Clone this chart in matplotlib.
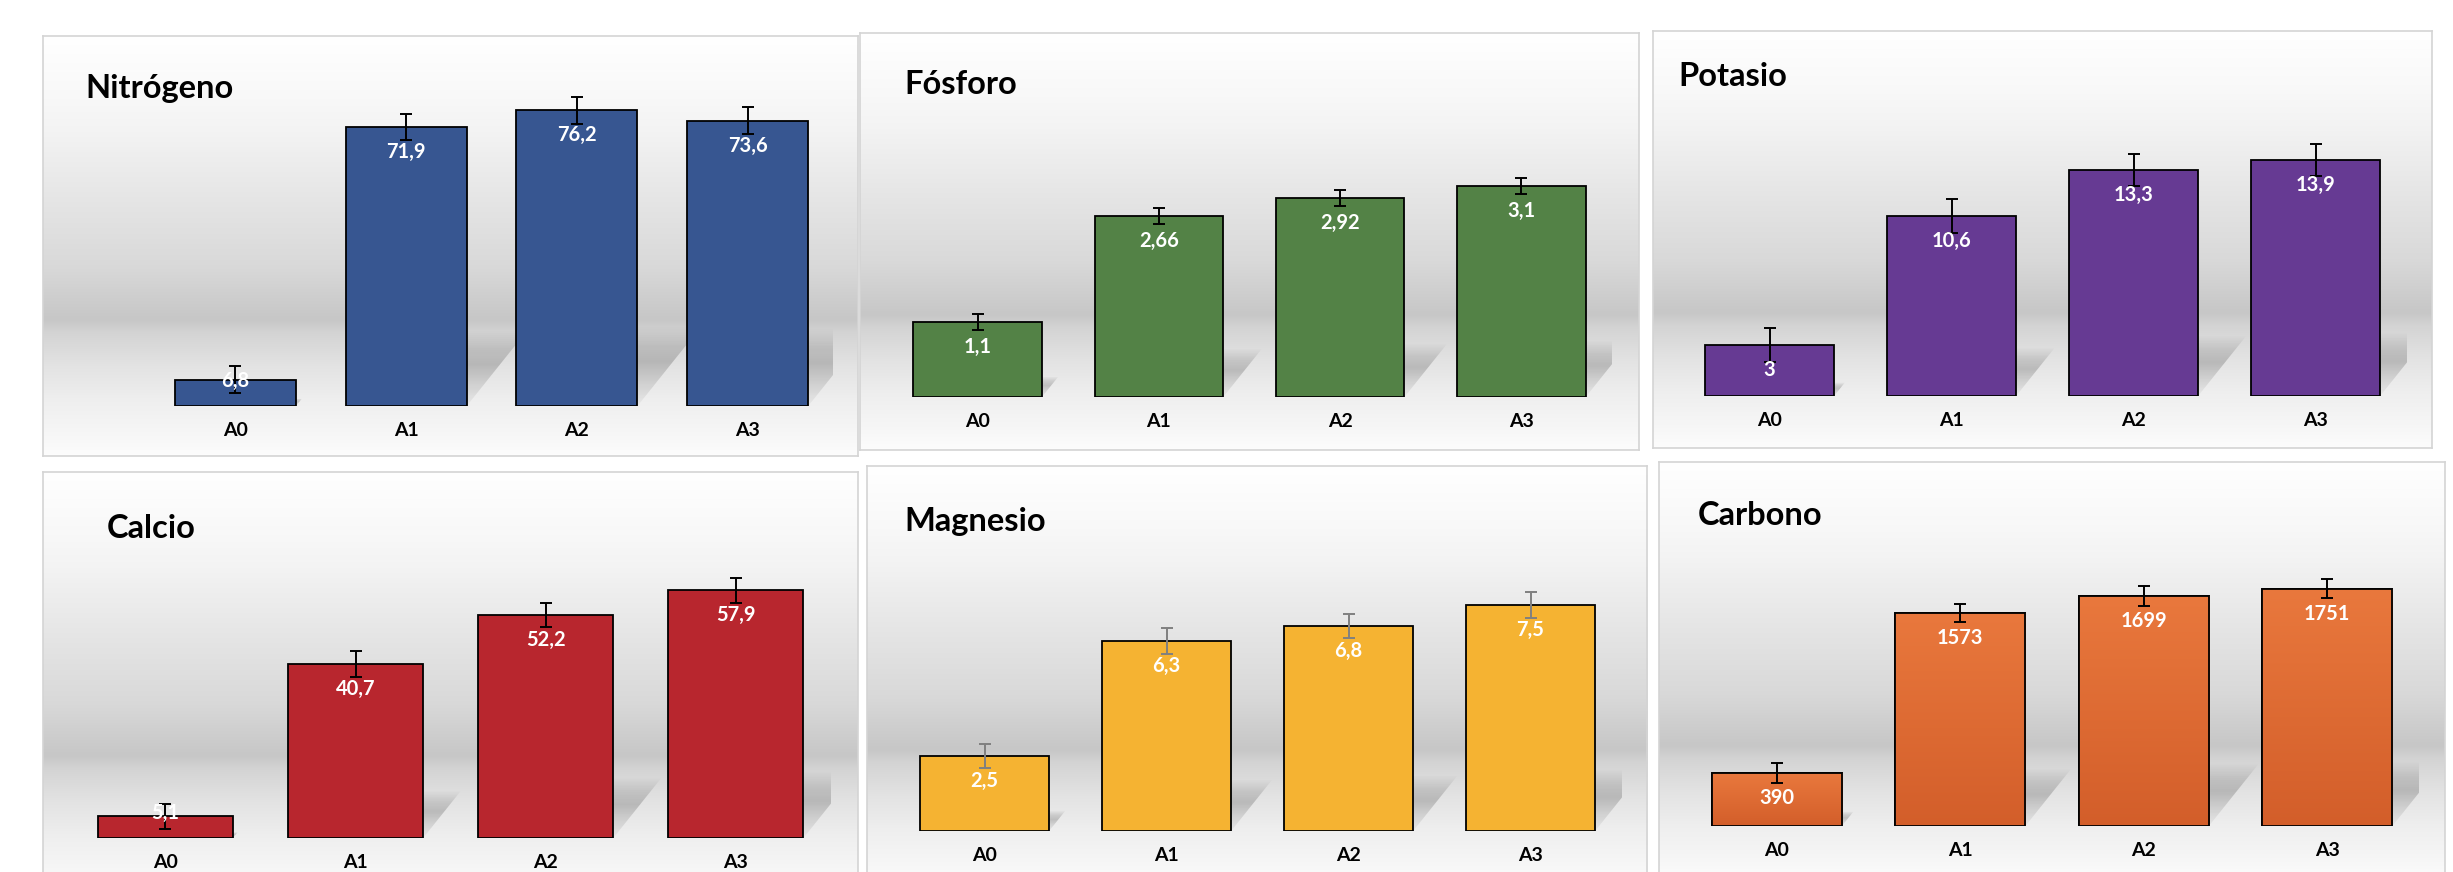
import numpy as np
import matplotlib
matplotlib.use("Agg")
import matplotlib.pyplot as plt
from matplotlib.patches import Polygon

plt.rcParams['font.family'] = ['Lato', 'DejaVu Sans']

# --- datos ---
categories = ['A0', 'A1', 'A2', 'A3']
titles = ['Nitrógeno', 'Fósforo', 'Potasio', 'Calcio', 'Magnesio', 'Carbono']

nitrogeno = [6.8, 71.9, 76.2, 73.6]
nitrogeno_err = [3.5, 3.4, 3.4, 3.4]
fosforo = [1.1, 2.66, 2.92, 3.1]
fosforo_err = [0.12, 0.12, 0.12, 0.12]
potasio = [3, 10.6, 13.3, 13.9]
potasio_err = [1.0, 1.0, 0.95, 0.95]
calcio = [5.1, 40.7, 52.2, 57.9]
calcio_err = [2.9, 3.1, 2.8, 2.9]
magnesio = [2.5, 6.3, 6.8, 7.5]
magnesio_err = [0.40, 0.44, 0.41, 0.43]
carbono = [390, 1573, 1699, 1751]
carbono_err = [75, 68, 73, 68]

values = [nitrogeno, fosforo, potasio, calcio, magnesio, carbono]
errors = [nitrogeno_err, fosforo_err, potasio_err, calcio_err, magnesio_err, carbono_err]

# --- estilo / disposicion (pixeles de la figura) ---
W, H = 2453, 872
colors = ['#375691', '#538246', '#663a93', '#b8262e', '#f5b332', '#e6733a']
err_colors = ['black', 'black', 'black', 'black', '#808080', 'black']
# caja del grafico (izq, arriba, der, abajo), area de trazado (izq, der, base), ymax, titulo
layout = [
    dict(box=(43, 36, 858, 456), plot=(150, 833, 406), ymax=95.4, title_xy=(85, 88)),
    dict(box=(860, 33, 1639, 450), plot=(887, 1612, 397), ymax=5.35, title_xy=(904, 84)),
    dict(box=(1653, 31, 2432, 448), plot=(1678.5, 2406.5, 396), ymax=21.5, title_xy=(1678, 77)),
    dict(box=(43, 472, 858, 892), plot=(70.4, 831, 838), ymax=85.5, title_xy=(107, 528)),
    dict(box=(867, 466, 1647, 886), plot=(893.5, 1621.5, 831), ymax=12.1, title_xy=(904, 521)),
    dict(box=(1659, 462, 2445, 882), plot=(1685, 2419, 826), ymax=2686, title_xy=(1698, 515)),
]
bar_width = 0.71


def fmt(v):
    return f"{v:g}".replace('.', ',')


def fig_rect(l, t, r, b):
    return [l / W, 1 - b / H, (r - l) / W, (b - t) / H]


# degradado de fondo (de arriba hacia abajo)
grad_f = [0, 0.15, 0.23, 0.39, 0.55, 0.676, 0.708, 0.787, 0.867, 0.946, 1.0]
grad_v = [1.0, 0.973, 0.953, 0.90, 0.85, 0.78, 0.83, 0.89, 0.935, 0.965, 0.99]
tt = np.linspace(0, 1, 400)
gray = np.interp(tt, grad_f, grad_v)
bg_img = np.repeat(gray[:, None, None], 3, axis=2)

fig = plt.figure(figsize=(W / 100, H / 100), dpi=100)
fig.patch.set_facecolor('white')


def draw_shadow(ax, i, v, px_x, px_y):
    sh = 0.27 * v
    dx = 0.8 * sh * px_y / px_x
    x0, x1 = i - bar_width / 2, i + bar_width / 2
    poly = Polygon([(x0, 0), (x1, 0), (x1 + dx, sh), (x0 + dx, sh)], closed=True,
                   facecolor='none', edgecolor='none')
    ax.add_patch(poly)
    t = np.linspace(0, 1, 128)
    a = np.interp(t, [0, 0.3, 0.55, 0.75, 1.0], [0.03, 0.11, 0.19, 0.13, 0.0])
    img = np.zeros((128, 1, 4))
    img[..., 3] = a[:, None]
    im = ax.imshow(img, extent=[x0, x1 + dx, 0, sh], origin='lower', aspect='auto',
                   zorder=1, interpolation='bilinear')
    im.set_clip_path(poly)


for k in range(6):
    lay = layout[k]
    vals = values[k]
    errs = errors[k]

    # fondo con borde
    bg = fig.add_axes(fig_rect(*lay['box']))
    bg.imshow(bg_img, extent=[0, 1, 0, 1], aspect='auto', interpolation='bilinear')
    bg.set_xlim(0, 1)
    bg.set_ylim(0, 1)
    bg.set_xticks([])
    bg.set_yticks([])
    for s in bg.spines.values():
        s.set_color('#d4d4d4')
        s.set_linewidth(1.2)

    pl, pr, base = lay['plot']
    ax = fig.add_axes(fig_rect(pl, lay['box'][1], pr, base))
    ax.set_facecolor('none')
    ax.set_xlim(-0.5, 3.5)
    ax.set_ylim(0, lay['ymax'])
    for s in ax.spines.values():
        s.set_visible(False)
    ax.set_yticks([])

    x = np.arange(len(categories))
    p0 = ax.transData.transform((0, 0))
    p1 = ax.transData.transform((1, 1))
    px_x, px_y = p1[0] - p0[0], p1[1] - p0[1]

    for i, v in enumerate(vals):
        draw_shadow(ax, i, v, px_x, px_y)

    bars = ax.bar(x, vals, width=bar_width, color=colors[k], edgecolor='black',
                  linewidth=1.3, zorder=2)
    if titles[k] == 'Carbono':
        g = np.linspace(0, 1, 128)
        top_c = np.array([0.914, 0.471, 0.239])
        bot_c = np.array([0.827, 0.369, 0.165])
        cimg = (bot_c[None, :] * (1 - g[:, None]) + top_c[None, :] * g[:, None])[:, None, :]
        for b in bars:
            im = ax.imshow(cimg, extent=[b.get_x(), b.get_x() + b.get_width(), 0, b.get_height()],
                           origin='lower', aspect='auto', zorder=2.1, interpolation='bilinear')
            im.set_clip_path(b)
        ax.bar(x, vals, width=bar_width, fill=False, edgecolor='black', linewidth=1.3, zorder=2.2)

    ax.errorbar(x, vals, yerr=errs, fmt='none', ecolor=err_colors[k], elinewidth=1.4,
                capsize=4.3, capthick=1.4, zorder=4)

    for i, v in enumerate(vals):
        if v * px_y >= 50:
            ax.annotate(fmt(v), xy=(i, v), xytext=(0, -18), textcoords='offset points',
                        ha='center', va='center', color='white', fontsize=14.5,
                        fontweight='bold', zorder=5)
        else:
            ax.annotate(fmt(v), xy=(i, 0), xytext=(0, 18), textcoords='offset points',
                        ha='center', va='center', color='white', fontsize=14.5,
                        fontweight='bold', zorder=5)

    ax.set_xticks(x)
    ax.set_xticklabels(categories, fontsize=14, fontweight='bold', color='black')
    ax.tick_params(axis='x', length=0, pad=11.5)

    ax.set_xlim(-0.5, 3.5)
    ax.set_ylim(0, lay['ymax'])

    tx, ty = lay['title_xy']
    fig.text(tx / W, 1 - ty / H, titles[k], fontsize=23.5, fontweight='bold',
             color='black', ha='left', va='center')

fig.savefig('out.png', dpi=100)
